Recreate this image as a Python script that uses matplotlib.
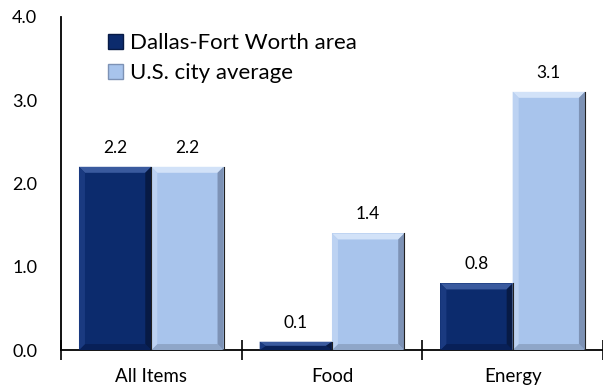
import matplotlib
matplotlib.use("Agg")
import matplotlib.pyplot as plt
from matplotlib.patches import Polygon, Rectangle
import numpy as np

categories = ["All Items", "Food", "Energy"]
series_names = ["Dallas-Fort Worth area", "U.S. city average"]
dfw = [2.2, 0.1, 0.8]
us = [2.2, 1.4, 3.1]
yticks = [0.0, 1.0, 2.0, 3.0, 4.0]

plt.rcParams['font.family'] = ['Lato', 'DejaVu Sans']

fig = plt.figure(figsize=(6.03, 3.92), dpi=100)
ax = fig.add_axes([0.101, 0.107, 0.899, 0.85])
ax.set_xlim(0, 3)
ax.set_ylim(0, 4)

face = {"dark": "#0c2b6d", "light": "#a8c4ec"}
top_c = {"dark": "#3a5a9e", "light": "#d2e2f8"}
left_c = {"dark": "#1a3a80", "light": "#bcd2f2"}
right_c = {"dark": "#071a45", "light": "#7d92b5"}
bot_c = {"dark": "#082058", "light": "#8fa6c8"}

px_x = 3 / (0.899 * 603)
px_y = 4 / (0.85 * 392)

def bevel_bar(x0, w, h, key):
    ax.add_patch(Rectangle((x0, 0), w, h, facecolor=face[key], edgecolor="none", zorder=2))
    bx = 6 * px_x
    by = min(6 * px_y, h / 2)
    bxx = min(bx, w / 2)
    x1 = x0 + w
    ax.add_patch(Polygon([(x0, h), (x1, h), (x1 - bxx, h - by), (x0 + bxx, h - by)],
                         closed=True, facecolor=top_c[key], edgecolor="none", zorder=3))
    ax.add_patch(Polygon([(x0, 0), (x1, 0), (x1 - bxx, by), (x0 + bxx, by)],
                         closed=True, facecolor=bot_c[key], edgecolor="none", zorder=3))
    ax.add_patch(Polygon([(x0, 0), (x0, h), (x0 + bxx, h - by), (x0 + bxx, by)],
                         closed=True, facecolor=left_c[key], edgecolor="none", zorder=3))
    ax.add_patch(Polygon([(x1, 0), (x1, h), (x1 - bxx, h - by), (x1 - bxx, by)],
                         closed=True, facecolor=right_c[key], edgecolor="none", zorder=3))
    ax.plot([x1, x1], [0, h], color="#222222", lw=0.8, zorder=4)

centers = np.arange(len(categories)) + 0.5
bw = 0.4
for i, c in enumerate(centers):
    bevel_bar(c - bw, bw, dfw[i], "dark")
    bevel_bar(c, bw, us[i], "light")
    ax.annotate(f"{dfw[i]:.1f}", (c - bw / 2, dfw[i]), xytext=(0, 8), textcoords="offset points",
                ha="center", va="bottom", fontsize=12.5)
    ax.annotate(f"{us[i]:.1f}", (c + bw / 2, us[i]), xytext=(0, 8), textcoords="offset points",
                ha="center", va="bottom", fontsize=12.5)

ax.spines['top'].set_visible(False)
ax.spines['right'].set_visible(False)
ax.spines['left'].set_linewidth(1.3)
ax.spines['bottom'].set_linewidth(1.3)

ax.set_yticks(yticks)
ax.set_yticklabels([f"{v:.1f}" for v in yticks], fontsize=13)
ax.tick_params(axis='y', length=0, pad=17)

ax.set_xticks([0, 1, 2, 3])
ax.set_xticklabels([])
ax.tick_params(axis='x', direction='inout', length=14, width=1.2)
ax.set_xticks(centers, minor=True)
ax.set_xticklabels(categories, minor=True, fontsize=13.5)
ax.tick_params(axis='x', which='minor', length=0, pad=13)

handles = [Rectangle((0, 0), 1, 1, facecolor=face["dark"], edgecolor=right_c["dark"]),
           Rectangle((0, 0), 1, 1, facecolor=face["light"], edgecolor=right_c["light"])]
leg = fig.legend(handles, series_names, loc="upper left",
                 bbox_to_anchor=(108 / 603, 1 - 33 / 392), bbox_transform=fig.transFigure,
                 frameon=False, fontsize=16, handlelength=0.68, handleheight=0.68,
                 handletextpad=0.33, labelspacing=0.45, borderpad=0, borderaxespad=0)

fig.savefig("out.png", dpi=100)
